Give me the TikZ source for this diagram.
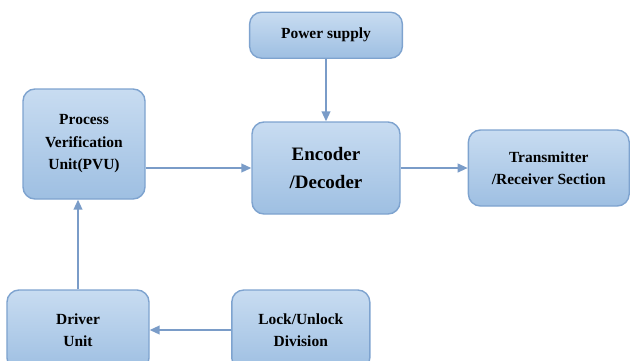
\documentclass[tikz,border=0pt]{standalone}
\usepackage{fontspec}
\setmainfont{Liberation Serif}
\usetikzlibrary{arrows.meta,positioning}
\definecolor{boxtop}{HTML}{C8DCF1}
\definecolor{boxbot}{HTML}{9EBFE2}
\definecolor{boxline}{HTML}{7EA3CF}
\definecolor{arrowblue}{HTML}{7A9CC8}
\begin{document}
\begin{tikzpicture}[
  >={Triangle[length=2.5mm,width=2.2mm]},
  block/.style={draw=boxline, line width=1pt, rounded corners=3mm, top color=boxtop, bottom color=boxbot, align=center, font=\fontsize{11}{16}\selectfont\bfseries},
  link/.style={->, draw=arrowblue, line width=1.1pt}
]
\useasboundingbox (0,0) rectangle (16,-9);
\node[block, minimum width=3.82cm, minimum height=1.15cm] (pwr) at (8.15,-0.88) {Power supply};
\node[block, minimum width=3.05cm, minimum height=2.75cm] (pvu) at (2.1,-3.6) {Process\\Verification\\Unit(PVU)};
\node[block, minimum width=3.7cm, minimum height=2.3cm, font=\fontsize{13.5}{20}\selectfont\bfseries] (enc) at (8.15,-4.2) {Encoder\\/Decoder};
\node[block, minimum width=4.02cm, minimum height=1.9cm] (trx) at (13.72,-4.2) {Transmitter\\/Receiver Section};
\node[block, minimum width=3.55cm, minimum height=2.0cm] (drv) at (1.95,-8.25) {Driver\\Unit};
\node[block, minimum width=3.45cm, minimum height=2.0cm] (lock) at (7.52,-8.25) {Lock/Unlock\\Division};
\draw[link] (pwr) -- (enc);
\draw[link] (enc.west -| pvu.east) -- (enc.west);
\draw[link] (enc) -- (trx);
\draw[link] (drv.north) -- (drv.north |- pvu.south);
\draw[link] (lock) -- (drv);
\end{tikzpicture}
\end{document}
